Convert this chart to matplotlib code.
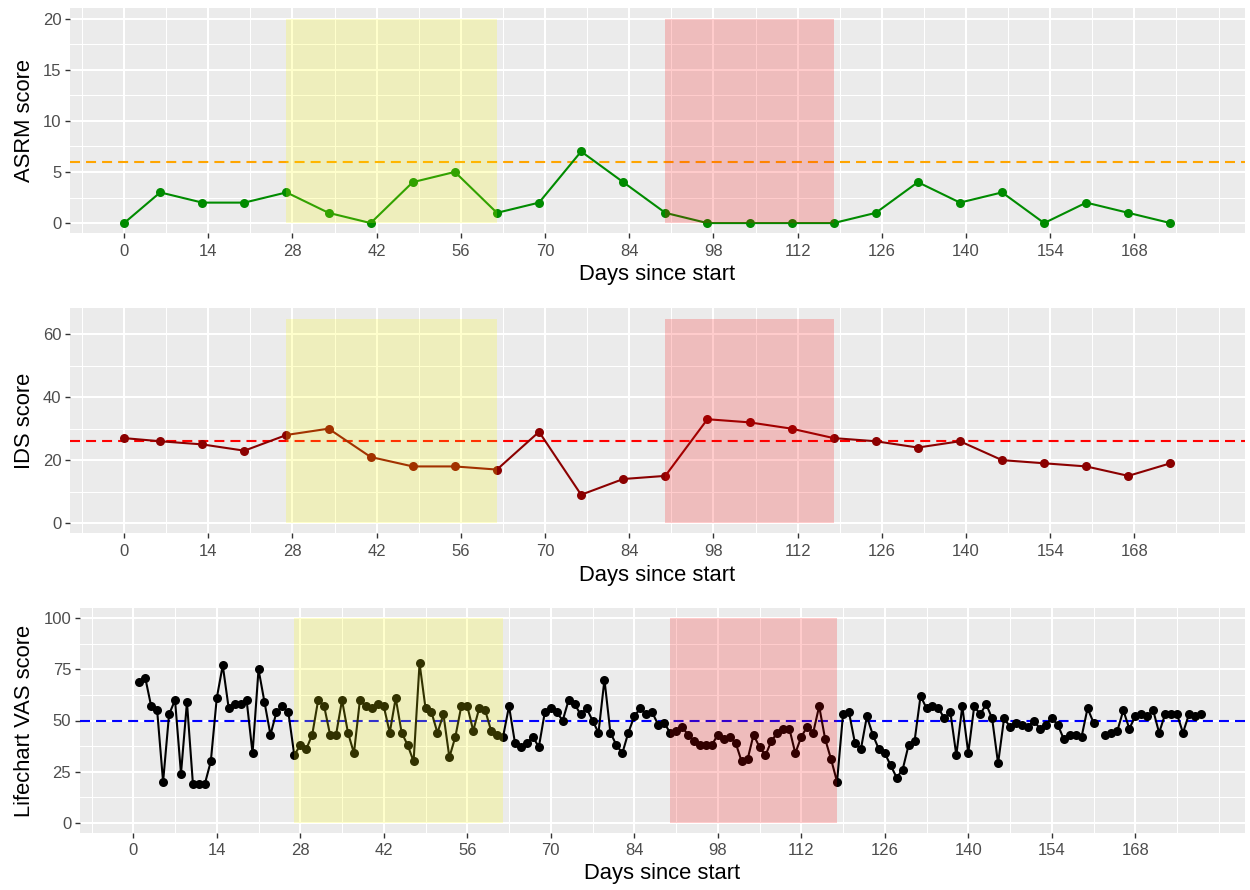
import numpy as np
import matplotlib
matplotlib.use("Agg")
import matplotlib.pyplot as plt

plt.rcParams['font.family'] = ['Liberation Sans', 'DejaVu Sans']

# Weekly questionnaire days and scores
week_days = [0, 6, 13, 20, 27, 34, 41, 48, 55, 62, 69, 76, 83, 90, 97, 104,
             111, 118, 125, 132, 139, 146, 153, 160, 167, 174]
asrm_scores = [0, 3, 2, 2, 3, 1, 0, 4, 5, 1, 2, 7, 4, 1, 0, 0, 0, 0, 1, 4,
               2, 3, 0, 2, 1, 0]
ids_scores = [27, 26, 25, 23, 28, 30, 21, 18, 18, 17, 29, 9, 14, 15, 33, 32,
              30, 27, 26, 24, 26, 20, 19, 18, 15, 19]

# Daily life chart visual analogue scale (day 162 missing)
vas_days = list(range(1, 180))
vas_scores = [
    69, 71, 57, 55, 20, 53, 60, 24, 59, 19,
    19, 19, 30, 61, 77, 56, 58, 58, 60, 34,
    75, 59, 43, 54, 57, 54, 33, 38, 36, 43,
    60, 57, 43, 43, 60, 44, 34, 60, 57, 56,
    58, 57, 44, 61, 44, 38, 30, 78, 56, 54,
    44, 53, 32, 42, 57, 57, 45, 56, 55, 45,
    43, 42, 57, 39, 37, 39, 42, 37, 54, 56,
    54, 50, 60, 58, 53, 56, 50, 44, 70, 44,
    38, 34, 44, 52, 56, 53, 54, 48, 49, 44,
    45, 47, 43, 40, 38, 38, 38, 43, 41, 42,
    39, 30, 31, 43, 37, 33, 40, 44, 46, 46,
    34, 42, 47, 44, 57, 41, 31, 20, 53, 54,
    39, 36, 52, 43, 36, 34, 28, 22, 26, 38,
    40, 62, 56, 57, 56, 51, 54, 33, 57, 34,
    57, 53, 58, 51, 29, 51, 47, 49, 48, 47,
    50, 46, 48, 51, 48, 41, 43, 43, 42, 56,
    49, np.nan, 43, 44, 45, 55, 46, 52, 53, 52,
    55, 44, 53, 53, 53, 44, 53, 52, 53,
]

x_breaks = list(range(0, 169, 14))
asrm_breaks = [0, 5, 10, 15, 20]
ids_breaks = [0, 20, 40, 60]
vas_breaks = [0, 25, 50, 75, 100]

asrm_cutoff = 6
ids_cutoff = 26
vas_cutoff = 50

yellow_span = (27, 62)
red_span = (90, 118)

W, H = 1250, 890
fig = plt.figure(figsize=(W / 100, H / 100), dpi=100)

BG = '#EBEBEB'
TICK_TXT = '#4D4D4D'
TICK_COL = '#333333'
XLIM = (-9.0, 186.4)


def minor_between(breaks, lo, hi):
    step = breaks[1] - breaks[0]
    ext = [breaks[0] - step] + list(breaks) + [breaks[-1] + step]
    mids = [(a + b) / 2 for a, b in zip(ext[:-1], ext[1:])]
    cand = mids + ext
    return sorted({m for m in cand if lo <= m <= hi and m not in breaks})


def panel(box, days, values, color, cutoff, cut_color, ymax, ybreaks, ylabel,
          ylab_x, xlab_y):
    left, top, right, bottom = box
    ax = fig.add_axes([left / W, 1 - bottom / H, (right - left) / W, (bottom - top) / H])
    ax.set_facecolor(BG)
    for s in ax.spines.values():
        s.set_visible(False)
    pad = 0.05 * ymax
    ax.set_xlim(*XLIM)
    ax.set_ylim(-pad, ymax + pad)

    ax.set_xticks(x_breaks)
    ax.set_yticks(ybreaks)
    ax.set_xticks(minor_between(x_breaks, *XLIM), minor=True)
    ax.set_yticks(minor_between(ybreaks, -pad, ymax + pad), minor=True)
    ax.grid(which='major', color='white', linewidth=1.5, zorder=0.5)
    ax.grid(which='minor', color='white', linewidth=0.75, zorder=0.4)
    ax.set_axisbelow(True)
    ax.tick_params(which='major', length=3.6, width=1.0, color=TICK_COL,
                   labelcolor=TICK_TXT, labelsize=12)
    ax.tick_params(axis='x', which='major', pad=4)
    ax.tick_params(axis='y', which='major', pad=2.5)
    ax.tick_params(which='minor', length=0)

    ax.axhline(cutoff, color=cut_color, linewidth=1.5,
               linestyle=(0, (4.8, 2.9)), zorder=2)
    ax.plot(days, values, color=color, linewidth=1.5, zorder=3)
    ax.plot(days, values, linestyle='none', marker='o', markersize=6.5,
            markeredgewidth=0, color=color, zorder=4)

    ax.fill_between(yellow_span, 0, ymax, color='#FFFF00', alpha=0.2,
                    linewidth=0, zorder=5)
    ax.fill_between(red_span, 0, ymax, color='#FF0000', alpha=0.2,
                    linewidth=0, zorder=5)

    ax.set_xlabel('Days since start', fontsize=15.8, color='black')
    ax.set_ylabel(ylabel, fontsize=15.8, color='black')
    ax.xaxis.set_label_coords(0.5, xlab_y)
    ax.xaxis.label.set_va('center')
    ax.yaxis.set_label_coords(ylab_x, 0.5)
    ax.yaxis.label.set_va('center')
    return ax


panel((70, 8.3, 1245, 233.3), week_days, asrm_scores, '#008B00',
      asrm_cutoff, '#FFA500', 20, asrm_breaks, 'ASRM score',
      (25 - 70) / 1175, -(274 - 233.3) / 225)
panel((70, 308.3, 1245, 533.3), week_days, ids_scores, '#8B0000',
      ids_cutoff, '#FF0000', 65, ids_breaks, 'IDS score',
      (25 - 70) / 1175, -(575 - 533.3) / 225)
panel((79.6, 608.1, 1245, 832.9), vas_days, vas_scores, 'black',
      vas_cutoff, '#0000FF', 100, vas_breaks, 'Lifechart VAS score',
      (25 - 79.6) / 1165.4, -(874 - 832.9) / 224.8)

fig.savefig('out.png', dpi=100, facecolor='white')
